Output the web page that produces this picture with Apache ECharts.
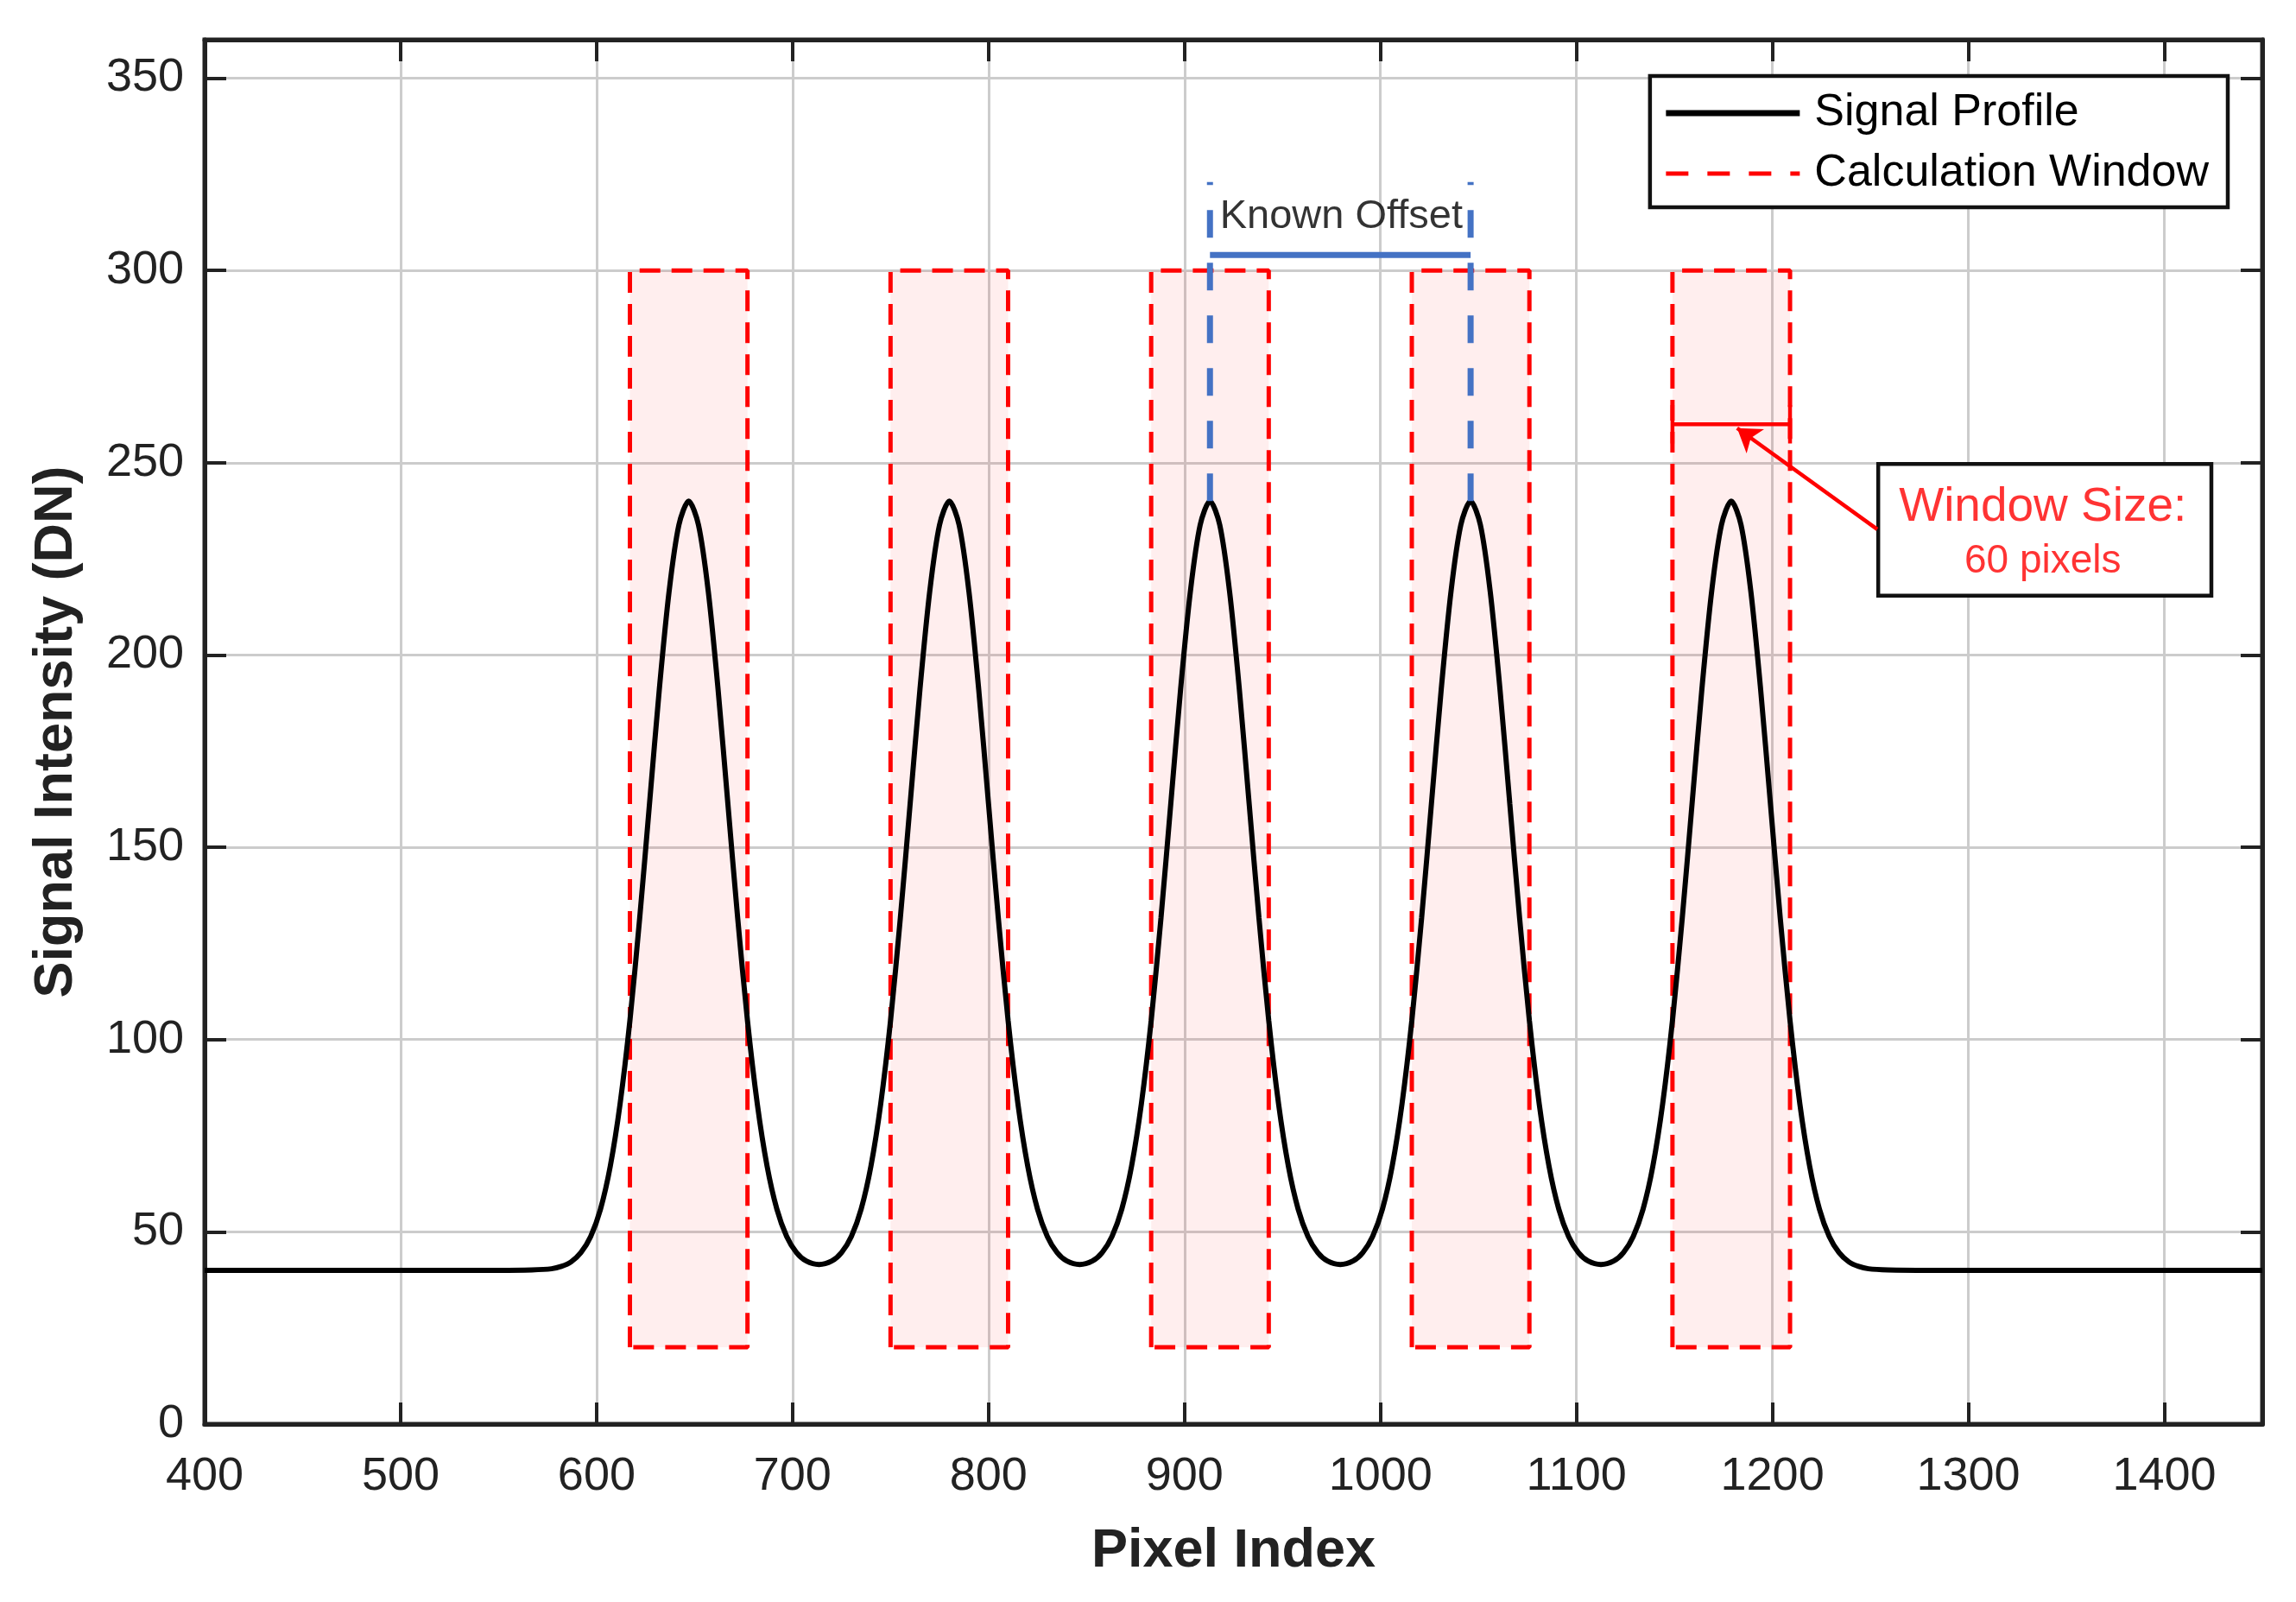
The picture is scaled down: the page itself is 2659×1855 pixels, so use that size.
<!DOCTYPE html>
<html>
<head>
<meta charset="utf-8">
<script src="https://cdn.jsdelivr.net/npm/echarts@6/dist/echarts.min.js"></script>
<style>
html, body { margin: 0; padding: 0; background: #fff; }
#chart { width: 2659px; height: 1855px; }
</style>
</head>
<body>
<div id="chart"></div>
<script>
// 信号曲线 (从图上读出的点)
var pixelIndex = [
  400, 500, 550, 567, 577, 582,
  587, 592, 597, 602, 607, 612, 617, 622, 627, 632, 637, 642, 647, 652, 657, 662, 667, 672, 677, 682, 687, 692, 697, 702, 707,
  713.5,
  720, 725, 730, 735, 740, 745, 750, 755, 760, 765, 770, 775, 780, 785, 790, 795, 800, 805, 810, 815, 820, 825, 830, 835, 840,
  846.5,
  853, 858, 863, 868, 873, 878, 883, 888, 893, 898, 903, 908, 913, 918, 923, 928, 933, 938, 943, 948, 953, 958, 963, 968, 973,
  979.5,
  986, 991, 996, 1001, 1006, 1011, 1016, 1021, 1026, 1031, 1036, 1041, 1046, 1051, 1056, 1061, 1066, 1071, 1076, 1081, 1086, 1091, 1096, 1101, 1106,
  1112.5,
  1119, 1124, 1129, 1134, 1139, 1144, 1149, 1154, 1159, 1164, 1169, 1174, 1179, 1184, 1189, 1194, 1199, 1204, 1209, 1214, 1219, 1224, 1229, 1234, 1239,
  1244, 1249, 1259, 1280, 1450
];
var intensity = [
  40, 40, 40, 40.1, 40.4, 41.0,
  42.2, 44.6, 48.8, 55.9, 67.1, 83.3, 104.9, 131.6, 161.3, 191.0, 216.5, 233.8, 240, 233.8, 216.5, 191.0, 161.3, 131.6, 104.9, 83.3, 67.1, 55.9, 48.8, 44.6, 42.4,
  41.5,
  42.4, 44.6, 48.8, 55.9, 67.1, 83.3, 104.9, 131.6, 161.3, 191.0, 216.5, 233.8, 240, 233.8, 216.5, 191.0, 161.3, 131.6, 104.9, 83.3, 67.1, 55.9, 48.8, 44.6, 42.4,
  41.5,
  42.4, 44.6, 48.8, 55.9, 67.1, 83.3, 104.9, 131.6, 161.3, 191.0, 216.5, 233.8, 240, 233.8, 216.5, 191.0, 161.3, 131.6, 104.9, 83.3, 67.1, 55.9, 48.8, 44.6, 42.4,
  41.5,
  42.4, 44.6, 48.8, 55.9, 67.1, 83.3, 104.9, 131.6, 161.3, 191.0, 216.5, 233.8, 240, 233.8, 216.5, 191.0, 161.3, 131.6, 104.9, 83.3, 67.1, 55.9, 48.8, 44.6, 42.4,
  41.5,
  42.4, 44.6, 48.8, 55.9, 67.1, 83.3, 104.9, 131.6, 161.3, 191.0, 216.5, 233.8, 240, 233.8, 216.5, 191.0, 161.3, 131.6, 104.9, 83.3, 67.1, 55.9, 48.8, 44.6, 42.2,
  41.0, 40.4, 40.1, 40, 40
];

// 计算窗口
var windowStart = [617, 750, 883, 1016, 1149];
var windowEnd = [677, 810, 943, 1076, 1209];
var windowLow = 20;
var windowHigh = 300;

// 已知偏移标注
var offsetX = [913, 1046];
var offsetFrom = 240;
var offsetTo = 323;
var offsetBarY = 304;

// 窗口大小标注
var sizeBar = [[1149, 265], [1149, 255], [1149, 260], [1209, 260], [1209, 255], [1209, 265]];
var sizeArrow = [[1253.5, 232.7], [1182, 259]];
var sizeBox = [[1254, 249.7], [1424, 215.4]];

// 文字
var notes = [
  { text: 'Known Offset', pos: [980, 314], size: 47, color: '#000' },
  { text: 'Window Size:', pos: [1338, 238.3], size: 55, color: '#ff0000' },
  { text: '60 pixels', pos: [1338, 224.3], size: 46, color: '#ff0000' }
];

var font = '"Liberation Sans", Arial, sans-serif';
var ink = '#222';

var profile = pixelIndex.map(function (x, i) { return [x, intensity[i]]; });

var series = [];

windowStart.forEach(function (s, i) {
  var e = windowEnd[i];
  series.push({
    name: 'Calculation Window',
    type: 'line',
    data: [[s, windowLow], [s, windowHigh], [e, windowHigh], [e, windowLow], [s, windowLow]],
    symbol: 'none',
    itemStyle: { color: '#ff0000' },
    lineStyle: { color: '#ff0000', width: 5, type: [24, 13] },
    markArea: {
      silent: true,
      itemStyle: { color: 'rgba(255,0,0,0.065)' },
      data: [[{ coord: [s, windowLow] }, { coord: [e, windowHigh] }]]
    },
    z: 3
  });
});

series.push({
  name: 'Signal Profile',
  type: 'line',
  data: profile,
  symbol: 'none',
  smooth: 0.3,
  itemStyle: { color: '#000' },
  lineStyle: { color: '#000', width: 6 },
  z: 4
});

offsetX.forEach(function (x) {
  series.push({
    type: 'line',
    data: [[x, offsetFrom], [x, offsetTo]],
    symbol: 'none',
    lineStyle: { color: '#4472C4', width: 7, type: [32, 29] },
    z: 5
  });
});

series.push({
  type: 'line',
  data: [[offsetX[0], offsetBarY], [offsetX[1], offsetBarY]],
  symbol: 'none',
  lineStyle: { color: '#4472C4', width: 7 },
  z: 5
});

series.push({
  type: 'line',
  data: sizeBar,
  symbol: 'none',
  lineStyle: { color: '#ff0000', width: 4.5 },
  markArea: {
    silent: true,
    itemStyle: { color: '#fff', borderColor: '#111', borderWidth: 4.5 },
    data: [[{ coord: sizeBox[0] }, { coord: sizeBox[1] }]]
  },
  markLine: {
    silent: true,
    symbol: ['none', 'arrow'],
    symbolSize: 26,
    label: { show: false },
    lineStyle: { color: '#ff0000', width: 4.5, type: 'solid' },
    data: [[{ coord: sizeArrow[0] }, { coord: sizeArrow[1] }]]
  },
  z: 5
});

series.push({
  type: 'scatter',
  symbolSize: 1,
  itemStyle: { color: 'rgba(0,0,0,0)' },
  silent: true,
  z: 8,
  data: notes.map(function (n) {
    return {
      value: n.pos,
      label: {
        show: true,
        position: 'inside',
        formatter: n.text,
        fontFamily: font,
        fontSize: n.size,
        color: n.color,
        textBorderWidth: 0
      }
    };
  })
});

var myChart = echarts.init(document.getElementById('chart'));

var option = {
  animation: false,
  backgroundColor: '#fff',
  grid: {
    left: 237, right: 39, top: 46, bottom: 206,
    show: true, borderColor: ink, borderWidth: 5
  },
  legend: {
    data: [
      { name: 'Signal Profile', itemStyle: { opacity: 0 }, lineStyle: { color: '#000', width: 7, type: 'solid' } },
      { name: 'Calculation Window', itemStyle: { opacity: 0 }, lineStyle: { color: '#ff0000', width: 5, type: [26, 22] } }
    ],
    orient: 'vertical',
    right: 79,
    top: 88,
    itemWidth: 155,
    itemHeight: 24,
    itemGap: 12,
    padding: [14, 22, 10, 15],
    backgroundColor: '#fff',
    borderColor: '#111',
    borderWidth: 4.5,
    selectedMode: false,
    textStyle: { fontFamily: font, fontSize: 52, color: '#000', lineHeight: 58, padding: [0, 0, 0, 12] }
  },
  xAxis: [{
    type: 'value', min: 400, max: 1450, interval: 100, position: 'bottom',
    name: 'Pixel Index', nameLocation: 'middle', nameGap: 116,
    nameTextStyle: { fontFamily: font, fontSize: 63, fontWeight: 'bold', color: ink },
    axisLine: { show: true, onZero: false, lineStyle: { color: ink, width: 5 } },
    axisTick: { show: true, inside: true, length: 25, lineStyle: { color: ink, width: 4 } },
    axisLabel: {
      margin: 34, fontFamily: font, fontSize: 54, color: ink,
      formatter: function (v) { return v % 100 === 0 ? String(v) : ''; }
    },
    splitLine: { show: true, lineStyle: { color: '#cccccc', width: 3 } }
  }, {
    type: 'value', min: 400, max: 1450, interval: 100, position: 'top',
    axisLine: { show: true, onZero: false, lineStyle: { color: ink, width: 5 } },
    axisTick: { show: true, inside: true, length: 25, lineStyle: { color: ink, width: 4 } },
    axisLabel: { show: false },
    splitLine: { show: false }
  }],
  yAxis: [{
    type: 'value', min: 0, max: 360, interval: 50, position: 'left',
    name: 'Signal Intensity (DN)', nameLocation: 'middle', nameGap: 140,
    nameTextStyle: { fontFamily: font, fontSize: 63, fontWeight: 'bold', color: ink },
    axisLine: { show: true, onZero: false, lineStyle: { color: ink, width: 5 } },
    axisTick: { show: true, inside: true, length: 25, lineStyle: { color: ink, width: 4 } },
    axisLabel: {
      margin: 24, fontFamily: font, fontSize: 54, color: ink,
      formatter: function (v) { return v % 50 === 0 ? String(v) : ''; }
    },
    splitLine: { show: true, lineStyle: { color: '#cccccc', width: 3 } }
  }, {
    type: 'value', min: 0, max: 360, interval: 50, position: 'right',
    axisLine: { show: true, onZero: false, lineStyle: { color: ink, width: 5 } },
    axisTick: { show: true, inside: true, length: 25, lineStyle: { color: ink, width: 4 } },
    axisLabel: { show: false },
    splitLine: { show: false }
  }],
  series: series
};

myChart.setOption(option);
</script>
</body>
</html>
